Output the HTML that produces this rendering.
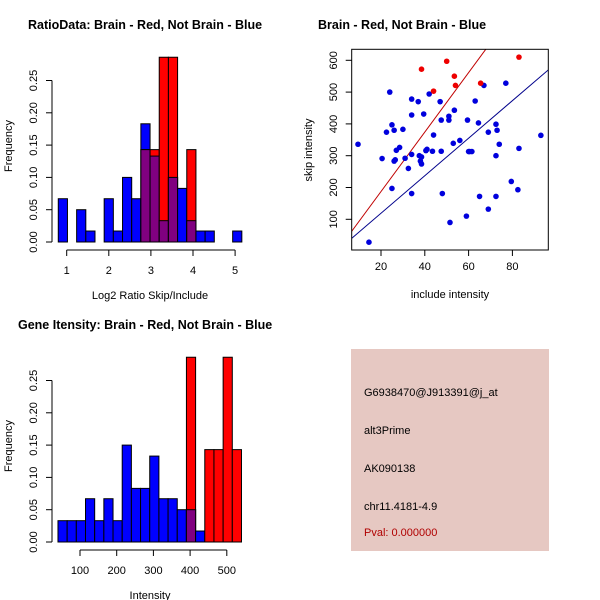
<!DOCTYPE html>
<html><head><meta charset="utf-8"><style>
body{margin:0;background:#fff;}
svg{display:block;font-family:"Liberation Sans",sans-serif;}
</style></head><body>
<svg id="c" width="600" height="600" xmlns="http://www.w3.org/2000/svg">
<rect x="0" y="0" width="600" height="600" fill="#fff"/>
<text x="28" y="29" font-size="12.5" font-weight="bold">RatioData: Brain - Red, Not Brain - Blue</text>
<text x="318" y="29" font-size="12.5" font-weight="bold">Brain - Red, Not Brain - Blue</text>
<text x="18" y="329" font-size="12.5" font-weight="bold">Gene Itensity: Brain - Red, Not Brain - Blue</text>
<g>
<rect x="351" y="349" width="198" height="202" fill="#e6c8c2"/>
<text x="364" y="396" font-size="11">G6938470@J913391@j_at</text>
<text x="364" y="434" font-size="11">alt3Prime</text>
<text x="364" y="472" font-size="11">AK090138</text>
<text x="364" y="510" font-size="11">chr11.4181-4.9</text>
<text x="364" y="536" font-size="11" fill="#b00000">Pval: 0.000000</text>
</g>
</svg>
<script>
const ratioBlue=[0.067,0,0.05,0.017,0,0.067,0.017,0.1,0.067,0.183,0.133,0.033,0.1,0.083,0.033,0.017,0.017,0,0,0.017];
const ratioRed=[0,0,0,0,0,0,0,0,0,0.143,0.143,0.286,0.286,0,0.143,0,0,0,0,0];
const ratioBreakStart=0.8, ratioBinWidth=0.218;
const ratioXTicks=[1,2,3,4,5];
const intBlue=[0.033,0.033,0.033,0.067,0.033,0.067,0.033,0.15,0.083,0.083,0.133,0.067,0.067,0.05,0.05,0.017,0,0,0,0];
const intRed=[0,0,0,0,0,0,0,0,0,0,0,0,0,0,0.286,0,0.143,0.143,0.286,0.143];
const intBreakStart=40, intBinWidth=25;
const intXTicks=[100,200,300,400,500];
const freqTicks=[0,0.05,0.10,0.15,0.20,0.25];
const freqTickLabels=["0.00","0.05","0.10","0.15","0.20","0.25"];
const redX=[38.5,50,53.5,54,44,65.5,83];
const redY=[572,597,550,521,503,528,610];
const blueX=[9.5,14.5,20.5,22.5,24,25,25,26,26,26.5,27,28.5,30,31,32.5,34,34,34,34,37,37.5,38,38.5,38.5,39.5,40.5,41,42,43.5,44,47,47.5,47.5,48,51,51,51.5,53,53.5,56,59,59.5,60,61.5,60.5,63,64.5,65,67,69,69,72.5,72.5,72.5,73,74,77,79.5,82.5,83,93];
const blueY=[336,28,291,374,500,397,197,380,283,287,317,326,383,292,260,428,478,304,181,470,300,283,296,274,431,316,320,494,314,365,470,412,314,181,424,412,90,339,443,348,110,412,313,313,313,472,403,172,521,374,132,399,172,300,380,336,528,219,193,323,364];
const scatXTicks=[20,40,60,80];
const scatYTicks=[100,200,300,400,500,600];
const redLine=[6.6,62,9.35];
const blueLine=[6.6,40,5.9];

const svg=document.getElementById('c');
const NS='http://www.w3.org/2000/svg';
function mk(t,a,p){const e=document.createElementNS(NS,t);for(const k in a)e.setAttribute(k,a[k]);(p||svg).appendChild(e);return e;}

function hist(ox,oy,blue,red,bs,bw,xt,xlab,nm){
  const g=mk('g',{});
  
  
  const y0=oy+242, yS=646;
  const xUnit=(ox===0? 42.1: 0.367), xRef=(ox===0?1:100), xRefPx=(ox===0?66.7:80);
  const X=v=>xRefPx+(v-xRef)*xUnit;
  const Y=v=>y0-v*yS;
  for(let i=0;i<blue.length;i++){
    const a=X(bs+i*bw), b=X(bs+(i+1)*bw);
    const bv=blue[i], rv=red[i];
    if(bv>0){const r=mk('rect',{x:a,y:Y(bv),width:b-a,height:bv*yS,fill:'#0000ff',stroke:'#000','stroke-width':1},g);
      }
    if(rv>0){const r=mk('rect',{x:a,y:Y(rv),width:b-a,height:rv*yS,fill:'#ff0000',stroke:'#000','stroke-width':1},g);
      }
    const m=Math.min(bv,rv);
    if(m>0){const r=mk('rect',{x:a,y:Y(m),width:b-a,height:m*yS,fill:'#800080',stroke:'#000','stroke-width':1},g);
      }
  }
  const ax=52;
  mk('line',{x1:ax,x2:ax,y1:Y(0),y2:Y(0.25),stroke:'#000'},g);
  freqTicks.forEach((t,i)=>{
    mk('line',{x1:ax-6,x2:ax,y1:Y(t),y2:Y(t),stroke:'#000'},g);
    const tx=mk('text',{x:0,y:0,'font-size':11,'text-anchor':'middle',transform:`translate(37,${Y(t)}) rotate(-90)`},g);
    tx.textContent=freqTickLabels[i];
  });
  const yl=mk('text',{x:0,y:0,'font-size':11,'text-anchor':'middle',transform:`translate(12,${oy+146}) rotate(-90)`},g);
  yl.textContent='Frequency';
  const ay=oy+250;
  mk('line',{x1:X(xt[0]),x2:X(xt[xt.length-1]),y1:ay,y2:ay,stroke:'#000'},g);
  xt.forEach(t=>{
    mk('line',{x1:X(t),x2:X(t),y1:ay,y2:ay+6,stroke:'#000'},g);
    const tx=mk('text',{x:X(t),y:ay+24,'font-size':11,'text-anchor':'middle'},g);tx.textContent=t;
  });
  const xl=mk('text',{x:150,y:ay+49,'font-size':11,'text-anchor':'middle'},g);xl.textContent=xlab;
}
hist(0,0,ratioBlue,ratioRed,ratioBreakStart,ratioBinWidth,ratioXTicks,'Log2 Ratio Skip/Include','ratio-histogram');
hist(1,300,intBlue,intRed,intBreakStart,intBinWidth,intXTicks,'Intensity','intensity-histogram');

(function(){
  const g=mk('g',{});
  
  
  const L=351.7,R=548.3,T=49.3,B=250;
  const X=v=>381+(v-20)*2.19;
  const Y=v=>60.3+(600-v)*0.318;
  const cp=mk('clipPath',{id:'sc'},g);mk('rect',{x:L,y:T,width:R-L,height:B-T},cp);
  const lg=mk('g',{'clip-path':'url(#sc)'},g);
  const rl=mk('line',{x1:X(redLine[0]),y1:Y(redLine[1]),x2:X(120),y2:Y(redLine[1]+(120-redLine[0])*redLine[2]),stroke:'#c00000'},lg);
  
  const bl=mk('line',{x1:X(blueLine[0]),y1:Y(blueLine[1]),x2:X(120),y2:Y(blueLine[1]+(120-blueLine[0])*blueLine[2]),stroke:'#00008b'},lg);
  
  blueX.forEach((x,i)=>{const c=mk('circle',{cx:X(x),cy:Y(blueY[i]),r:2.8,fill:'#0000dd'},g);
    });
  redX.forEach((x,i)=>{const c=mk('circle',{cx:X(x),cy:Y(redY[i]),r:2.8,fill:'#ee0000'},g);
    });
  mk('rect',{x:L,y:T,width:R-L,height:B-T,fill:'none',stroke:'#000'},g);
  scatXTicks.forEach(t=>{mk('line',{x1:X(t),x2:X(t),y1:B,y2:B+6,stroke:'#000'},g);
    const tx=mk('text',{x:X(t),y:B+20,'font-size':11,'text-anchor':'middle'},g);tx.textContent=t;});
  scatYTicks.forEach(t=>{mk('line',{x1:L-6,x2:L,y1:Y(t),y2:Y(t),stroke:'#000'},g);
    const tx=mk('text',{x:0,y:0,'font-size':11,'text-anchor':'middle',transform:`translate(337,${Y(t)}) rotate(-90)`},g);tx.textContent=t;});
  const xl=mk('text',{x:450,y:298,'font-size':11,'text-anchor':'middle'},g);xl.textContent='include intensity';
  const yl=mk('text',{x:0,y:0,'font-size':11,'text-anchor':'middle',transform:'translate(312,150) rotate(-90)'},g);yl.textContent='skip intensity';
})();
</script>
</body></html>
